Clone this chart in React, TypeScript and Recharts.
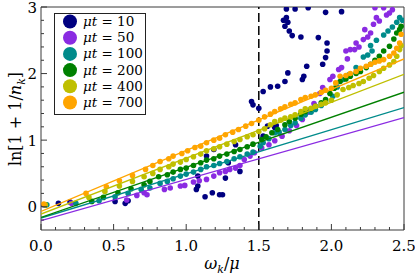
import { ScatterChart, Scatter, XAxis, YAxis, ReferenceLine, ReferenceArea } from 'recharts';

type Pt = [number, number];

const seriesLabels = ['10', '50', '100', '200', '400', '700'];
const seriesColors = ['#000080', '#8a2be2', '#008b8b', '#008000', '#bfbf00', '#ffa500'];

const xTicks = [0, 0.1, 0.2, 0.3, 0.4, 0.5, 0.6, 0.7, 0.8, 0.9, 1, 1.1, 1.2, 1.3, 1.4, 1.5, 1.6, 1.7, 1.8, 1.9, 2, 2.1, 2.2, 2.3, 2.4, 2.5];
const yTicks = [-0.2, 0, 0.2, 0.4, 0.6, 0.8, 1, 1.2, 1.4, 1.6, 1.8, 2, 2.2, 2.4, 2.6, 2.8, 3];

// μt = 10 (no fit line)
const mu10: Pt[] = [
  [0.02, 0.03], [0.12, 0.05], [0.2, 0.07], [0.51, 0.08], [0.58, 0.05], [0.6, 0.09],
  [1.07, 0.26], [1.08, 0.31], [1.08, 0.46], [1.13, 0.15], [1.14, 0.76], [1.18, 0.21],
  [1.19, 0.86], [1.23, 0.18], [1.25, 0.18], [1.27, 0.43], [1.29, 0.66], [1.34, 0.93],
  [1.37, 0.53], [1.45, 1.58], [1.46, 1.53], [1.5, 1.48], [1.53, 1.06], [1.53, 1.73],
  [1.56, 1.21], [1.58, 1.8], [1.61, 1.19], [1.62, 1.22], [1.63, 1.81], [1.67, 2.8],
  [1.68, 2.71], [1.68, 1.88], [1.69, 2.84], [1.69, 2.97], [1.7, 2.01], [1.7, 2.77],
  [1.71, 2.64], [1.73, 2.57], [1.75, 2.97], [1.79, 2.55], [1.8, 1.91], [1.81, 1.96],
  [1.83, 2.11], [1.84, 2.99], [1.91, 2.54], [1.94, 2.14], [1.96, 2.24], [1.96, 2.92],
  [1.97, 2.34], [1.97, 2.46], [2.07, 2.93],
];

const mu50: Pt[] = [
  [0.03, 0.03], [0.21, 0.05], [0.59, 0.1], [0.66, 0.17], [0.71, 0.21], [0.73, 0.18],
  [0.85, 0.26], [0.89, 0.28], [0.96, 0.31], [0.99, 0.32], [1.05, 0.37], [1.09, 0.39],
  [1.14, 0.41], [1.19, 0.46], [1.23, 0.51], [1.27, 0.53], [1.3, 0.56], [1.34, 0.58],
  [1.37, 0.62], [1.4, 0.71], [1.44, 0.76], [1.47, 0.81], [1.52, 0.88], [1.57, 0.93],
  [1.61, 0.99], [1.66, 1.06], [1.71, 1.14], [1.76, 1.22], [1.8, 1.31], [1.84, 1.42],
  [1.88, 1.55], [1.92, 1.7], [1.94, 1.79], [1.99, 1.91], [2.01, 1.96], [2.05, 2.06],
  [2.07, 2.09], [2.1, 2.34], [2.11, 2.22], [2.13, 2.36], [2.16, 2.36], [2.17, 2.46],
  [2.19, 2.4], [2.22, 2.51], [2.23, 2.66], [2.25, 2.55], [2.27, 2.61], [2.29, 2.74],
  [2.3, 2.99], [2.31, 2.84], [2.33, 2.79], [2.36, 2.99], [2.38, 2.88], [2.4, 2.91],
  [2.42, 2.96],
];

const mu100: Pt[] = [
  [0.04, 0.03], [0.24, 0.05], [0.4, 0.09], [0.51, 0.15], [0.6, 0.2], [0.69, 0.26],
  [0.75, 0.28], [0.82, 0.35], [0.87, 0.38], [0.91, 0.42], [0.96, 0.46], [1.0, 0.49],
  [1.05, 0.52], [1.1, 0.56], [1.14, 0.6], [1.19, 0.62], [1.23, 0.65], [1.28, 0.68],
  [1.33, 0.72], [1.37, 0.75], [1.42, 0.79], [1.46, 0.82], [1.51, 0.91], [1.53, 0.96],
  [1.57, 1.02], [1.61, 1.11], [1.64, 1.12], [1.68, 1.16], [1.72, 1.22], [1.75, 1.26],
  [1.79, 1.33], [1.82, 1.38], [1.86, 1.42], [1.89, 1.46], [1.93, 1.52], [1.96, 1.58],
  [2.01, 1.66], [2.04, 1.8], [2.08, 1.91], [2.12, 1.98], [2.17, 2.09], [2.22, 2.25],
  [2.25, 2.28], [2.27, 2.42], [2.28, 2.34], [2.31, 2.5], [2.36, 2.58], [2.39, 2.64],
  [2.42, 2.7], [2.45, 2.77], [2.47, 2.84], [2.49, 2.8],
];

const mu200: Pt[] = [
  [0.03, 0.03], [0.35, 0.08], [0.43, 0.14], [0.53, 0.21], [0.62, 0.27], [0.71, 0.33],
  [0.75, 0.38], [0.81, 0.45], [0.87, 0.48], [0.91, 0.52], [0.96, 0.56], [1.0, 0.58],
  [1.05, 0.62], [1.1, 0.66], [1.14, 0.7], [1.19, 0.72], [1.23, 0.76], [1.28, 0.79],
  [1.33, 0.83], [1.37, 0.86], [1.42, 0.9], [1.46, 0.94], [1.52, 1.01], [1.55, 1.05],
  [1.59, 1.11], [1.63, 1.16], [1.68, 1.23], [1.71, 1.28], [1.75, 1.33], [1.79, 1.39],
  [1.82, 1.43], [1.86, 1.47], [1.89, 1.51], [1.93, 1.56], [1.96, 1.61], [1.99, 1.7],
  [2.02, 1.78], [2.06, 1.88], [2.1, 1.92], [2.13, 1.96], [2.17, 2.0], [2.2, 2.03],
  [2.24, 2.09], [2.27, 2.14], [2.3, 2.2], [2.33, 2.26], [2.36, 2.34], [2.4, 2.41],
  [2.43, 2.52], [2.45, 2.61], [2.47, 2.66], [2.48, 2.71],
];

const mu400: Pt[] = [
  [0.03, 0.03], [0.33, 0.14], [0.44, 0.23], [0.54, 0.31], [0.63, 0.38], [0.71, 0.45],
  [0.77, 0.5], [0.82, 0.56], [0.88, 0.6], [0.91, 0.64], [0.96, 0.67], [1.0, 0.71],
  [1.05, 0.75], [1.1, 0.79], [1.14, 0.84], [1.19, 0.87], [1.23, 0.9], [1.28, 0.94],
  [1.33, 0.98], [1.37, 1.01], [1.42, 1.05], [1.46, 1.08], [1.5, 1.13], [1.54, 1.17],
  [1.58, 1.23], [1.61, 1.28], [1.65, 1.3], [1.68, 1.33], [1.72, 1.35], [1.75, 1.38],
  [1.79, 1.43], [1.82, 1.47], [1.86, 1.48], [1.89, 1.51], [1.93, 1.54], [1.96, 1.56],
  [2.0, 1.6], [2.04, 1.68], [2.08, 1.76], [2.12, 1.79], [2.15, 1.82], [2.19, 1.85],
  [2.22, 1.88], [2.26, 1.93], [2.29, 1.97], [2.33, 2.03], [2.36, 2.08], [2.4, 2.13],
  [2.43, 2.18], [2.45, 2.26], [2.47, 2.36], [2.48, 2.42],
];

const mu700: Pt[] = [
  [0.02, 0.04], [0.31, 0.2], [0.45, 0.3], [0.54, 0.39], [0.63, 0.47], [0.72, 0.56],
  [0.77, 0.62], [0.82, 0.68], [0.88, 0.72], [0.91, 0.76], [0.97, 0.8], [1.01, 0.84],
  [1.06, 0.89], [1.1, 0.91], [1.14, 0.96], [1.19, 1.0], [1.23, 1.03], [1.27, 1.08],
  [1.32, 1.12], [1.36, 1.16], [1.41, 1.21], [1.45, 1.25], [1.5, 1.3], [1.54, 1.35],
  [1.58, 1.39], [1.61, 1.43], [1.65, 1.47], [1.68, 1.5], [1.72, 1.54], [1.75, 1.56],
  [1.79, 1.61], [1.82, 1.64], [1.86, 1.66], [1.89, 1.68], [1.93, 1.72], [1.96, 1.75],
  [2.0, 1.78], [2.03, 1.86], [2.06, 1.96], [2.1, 1.97], [2.13, 2.0], [2.17, 2.03],
  [2.2, 2.08], [2.24, 2.11], [2.27, 2.14], [2.3, 2.17], [2.33, 2.19], [2.36, 2.21],
  [2.4, 2.26], [2.43, 2.31], [2.45, 2.38], [2.47, 2.46], [2.48, 2.59],
];

// straight fits, endpoints at x = 0 and x = 2.5
const fit50: Pt[] = [[0, -0.21], [2.5, 1.34]];
const fit100: Pt[] = [[0, -0.17], [2.5, 1.49]];
const fit200: Pt[] = [[0, -0.16], [2.5, 1.72]];
const fit400: Pt[] = [[0, -0.11], [2.5, 1.99]];
const fit700: Pt[] = [[0, -0.07], [2.5, 2.22]];

const points = [mu10, mu50, mu100, mu200, mu400, mu700];
const fits: (Pt[] | null)[] = [null, fit50, fit100, fit200, fit400, fit700];

const toRows = (arr: Pt[]) => arr.map(([x, y]) => ({ x, y }));

const FONT = 'DejaVu Serif';
const AXIS = '#3a3a3a';

const XTick = (props: any) => {
  const { x, y, payload } = props;
  const v = payload.value as number;
  const major = Math.abs(v * 2 - Math.round(v * 2)) < 1e-6;
  return (
    <g>
      <line x1={x} x2={x} y1={y} y2={y - (major ? 6 : 3)} stroke={AXIS} strokeWidth={1} />
      {major && (
        <text x={x} y={y + 21} textAnchor="middle" fontFamily={FONT} fontSize={15} fill="#000">
          {v.toFixed(1)}
        </text>
      )}
    </g>
  );
};

const YTick = (props: any) => {
  const { x, y, payload } = props;
  const v = payload.value as number;
  const major = Math.abs(v - Math.round(v)) < 1e-6;
  return (
    <g>
      <line x1={x} x2={x + (major ? 6 : 3)} y1={y} y2={y} stroke={AXIS} strokeWidth={1} />
      {major && (
        <text x={x - 4} y={y + 5.5} textAnchor="end" fontFamily={FONT} fontSize={15} fill="#000">
          {String(Math.round(v))}
        </text>
      )}
    </g>
  );
};

export default function App() {
  return (
    <div style={{ position: 'absolute', left: 0, top: 0, width: 415, height: 277, background: '#fff' }}>
      <ScatterChart width={415} height={277} margin={{ top: 7, right: 11, bottom: 0, left: 0 }}>
        <XAxis
          type="number"
          dataKey="x"
          domain={[0, 2.5]}
          ticks={xTicks}
          interval={0}
          allowDataOverflow
          axisLine={false}
          tickLine={false}
          tickSize={0}
          tickMargin={0}
          height={47}
          tick={(p: any) => <XTick {...p} />}
        />
        <YAxis
          type="number"
          dataKey="y"
          domain={[-0.35, 3]}
          ticks={yTicks}
          interval={0}
          allowDataOverflow
          axisLine={false}
          tickLine={false}
          tickSize={0}
          tickMargin={0}
          width={41}
          tick={(p: any) => <YTick {...p} />}
        />
        <ReferenceArea x1={0} x2={2.5} y1={-0.35} y2={3} fill="none" stroke={AXIS} strokeWidth={1} ifOverflow="visible" />

        {points.map((pts, i) => (
          <Scatter
            key={'pts' + i}
            data={toRows(pts)}
            fill={seriesColors[i]}
            isAnimationActive={false}
            shape={(p: any) => <circle cx={p.cx} cy={p.cy} r={2.8} fill={seriesColors[i]} />}
          />
        ))}

        {fits.map((f, i) =>
          f ? (
            <Scatter
              key={'fit' + i}
              data={toRows(f)}
              line={{ stroke: seriesColors[i], strokeWidth: 1.3 }}
              isAnimationActive={false}
              shape={() => <g />}
            />
          ) : null
        )}

        <ReferenceLine x={1.5} stroke="#000" strokeWidth={1.5} strokeDasharray="9 4" />
      </ScatterChart>

      <svg width={415} height={277} style={{ position: 'absolute', left: 0, top: 0, pointerEvents: 'none' }}>
        {/* legend */}
        <rect x={54.5} y={13.5} width={91} height={101} fill="#fff" stroke="#222" strokeWidth={1} />
        {seriesLabels.map((lab, i) => (
          <g key={lab}>
            <circle cx={70} cy={21.5 + i * 16.2} r={7} fill={seriesColors[i]} />
            <text x={83} y={21.5 + i * 16.2 + 4.5} fontFamily={FONT} fontSize={13.5} fill="#000">
              <tspan fontStyle="italic">μt</tspan> = {lab}
            </text>
          </g>
        ))}

        {/* axis labels */}
        <text x={222} y={269} textAnchor="middle" fontFamily={FONT} fontSize={16} fill="#000">
          <tspan fontStyle="italic">ω</tspan>
          <tspan fontStyle="italic" fontSize={11} dy={4}>k</tspan>
          <tspan dy={-4}>/</tspan>
          <tspan fontStyle="italic">μ</tspan>
        </text>
        <text
          transform="translate(21,119) rotate(-90)"
          textAnchor="middle"
          fontFamily={FONT}
          fontSize={16}
          fill="#000"
        >
          <tspan>ln[1 + 1/</tspan>
          <tspan fontStyle="italic">n</tspan>
          <tspan fontStyle="italic" fontSize={11} dy={4}>k</tspan>
          <tspan dy={-4}>]</tspan>
        </text>
      </svg>
    </div>
  );
}
